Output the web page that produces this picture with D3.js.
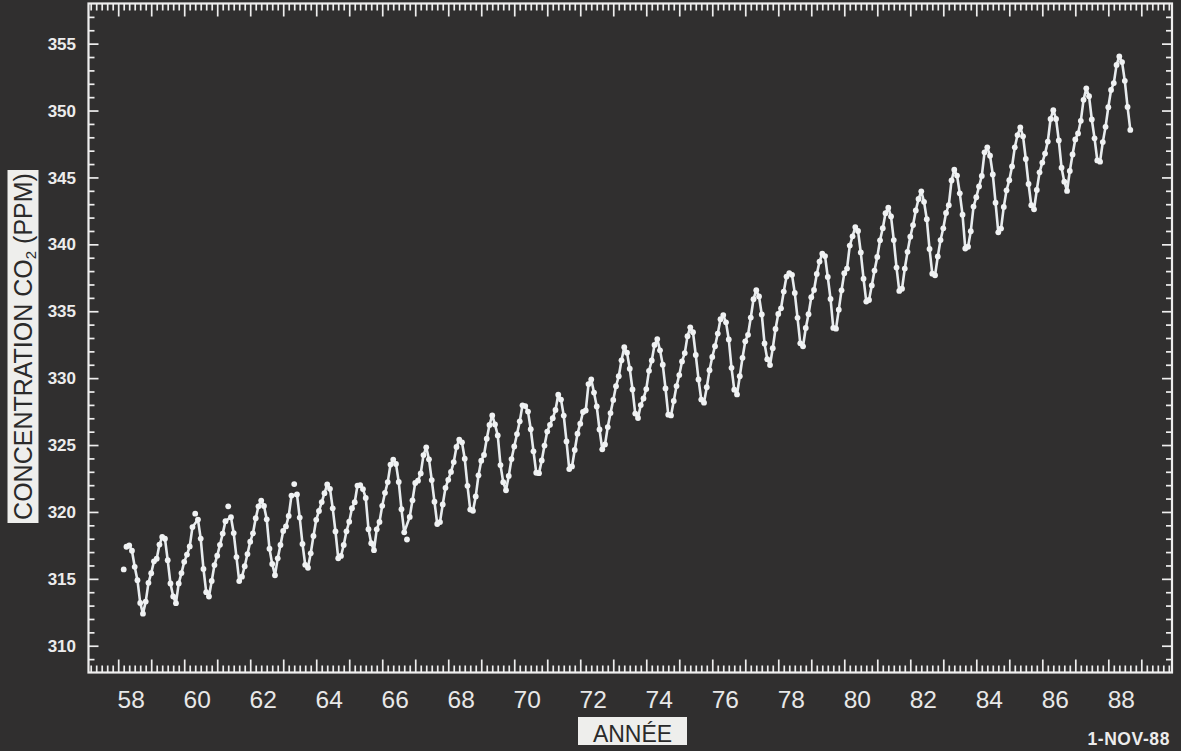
<!DOCTYPE html>
<html>
<head>
<meta charset="utf-8">
<script src="https://cdn.jsdelivr.net/npm/d3@7"></script>
<style>
  html, body { margin: 0; padding: 0; background: #302f2f; }
  svg { display: block; }
</style>
</head>
<body>
<script>
// ---------------- DATA ----------------
// Monthly mean CO2 concentration (ppm), Mauna Loa, from March 1958 to September 1988
const startYear = 1958;
const startMonth = 3; // March
const co2_1958_1967 = [
  315.7, 317.4, 317.5, 317.1, 315.9, 314.9, 313.2, 312.4, 313.3, 314.7,
  315.42, 316.31, 316.50, 317.56, 318.13, 318.00, 316.39, 314.65, 313.68, 313.18, 314.66, 315.43,
  316.27, 316.81, 317.42, 318.87, 319.87, 319.43, 318.01, 315.74, 314.00, 313.68, 314.84, 316.03,
  316.73, 317.54, 318.38, 319.31, 320.42, 319.61, 318.42, 316.63, 314.83, 315.16, 315.94, 316.85,
  317.78, 318.40, 319.53, 320.42, 320.85, 320.45, 319.45, 317.25, 316.11, 315.27, 316.53, 317.53,
  318.58, 318.92, 319.70, 321.22, 322.08, 321.31, 319.58, 317.61, 316.05, 315.83, 316.91, 318.20,
  319.41, 320.07, 320.74, 321.40, 322.06, 321.73, 320.27, 318.54, 316.54, 316.71, 317.53, 318.55,
  319.27, 320.28, 320.73, 321.97, 322.00, 321.71, 321.05, 318.71, 317.66, 317.14, 318.70, 319.25,
  320.46, 321.43, 322.23, 323.54, 323.91, 323.59, 322.24, 320.20, 318.48, 317.94, 319.63, 320.87,
  322.17, 322.34, 322.88, 324.25, 324.83, 323.93, 322.38, 320.76, 319.10, 319.24, 320.56, 321.80
];
const co2_1968_1977 = [
  322.40, 322.99, 323.73, 324.86, 325.40, 325.20, 323.98, 321.95, 320.18, 320.09, 321.16, 322.74,
  323.83, 324.26, 325.47, 326.50, 327.21, 326.54, 325.72, 323.50, 322.22, 321.62, 322.69, 323.95,
  324.89, 325.82, 326.77, 327.97, 327.91, 327.50, 326.18, 324.53, 322.93, 322.90, 323.85, 324.96,
  326.01, 326.51, 327.01, 327.62, 328.76, 328.40, 327.20, 325.27, 323.20, 323.40, 324.63, 325.85,
  326.60, 327.47, 327.58, 329.56, 329.90, 328.92, 327.88, 326.16, 324.68, 325.04, 326.34, 327.39,
  328.37, 329.40, 330.14, 331.33, 332.31, 331.90, 330.70, 329.15, 327.35, 327.02, 327.99, 328.48,
  329.18, 330.55, 331.32, 332.48, 332.92, 332.08, 331.01, 329.23, 327.27, 327.21, 328.29, 329.41,
  330.23, 331.25, 331.87, 333.14, 333.80, 333.43, 331.73, 329.90, 328.40, 328.17, 329.32, 330.59,
  331.58, 332.39, 333.33, 334.41, 334.71, 334.17, 332.89, 330.77, 329.14, 328.78, 330.14, 331.52,
  332.75, 333.24, 334.53, 335.90, 336.57, 336.10, 334.76, 332.59, 331.42, 330.98, 332.24, 333.68
];
const co2_1978_1988 = [
  334.80, 335.22, 336.47, 337.59, 337.84, 337.72, 336.37, 334.51, 332.60, 332.38, 333.75, 334.78,
  336.05, 336.59, 337.79, 338.71, 339.30, 339.12, 337.56, 335.92, 333.75, 333.70, 335.12, 336.56,
  337.84, 338.19, 339.91, 340.60, 341.29, 341.00, 339.39, 337.43, 335.72, 335.84, 336.93, 338.04,
  339.06, 340.30, 341.21, 342.33, 342.74, 342.08, 340.32, 338.26, 336.52, 336.68, 338.19, 339.44,
  340.57, 341.44, 342.53, 343.39, 343.96, 343.18, 341.88, 339.65, 337.81, 337.69, 339.09, 340.32,
  341.20, 342.35, 342.93, 344.77, 345.58, 345.14, 343.81, 342.21, 339.69, 339.82, 340.98, 342.82,
  343.52, 344.33, 345.11, 346.88, 347.25, 346.62, 345.22, 343.11, 340.90, 341.18, 342.80, 344.04,
  344.79, 345.82, 347.25, 348.17, 348.74, 348.07, 346.38, 344.51, 342.92, 342.62, 344.06, 345.38,
  346.11, 346.78, 347.68, 349.37, 350.03, 349.37, 347.76, 345.73, 344.68, 343.99, 345.48, 346.72,
  347.84, 348.29, 349.23, 350.80, 351.66, 351.07, 349.33, 347.92, 346.27, 346.18, 347.64, 348.78,
  350.25, 351.54, 352.05, 353.41, 354.04, 353.62, 352.22, 350.27, 348.55
];
// months plotted as points but not joined by the line
const detachedMonths = ["1958-03", "1960-05", "1961-05", "1963-05", "1966-10"];

const xTickLabels = ["58","60","62","64","66","68","70","72","74","76","78","80","82","84","86","88"];
const yTickLabels = ["310","315","320","325","330","335","340","345","350","355"];
const yTitle = ["CONCENTRATION CO", "2", " (PPM)"];
const xTitle = "ANNÉE";
const dateStamp = "1-NOV-88";

// ---------------- BUILD ----------------
const W = 1181, H = 751;
const values = co2_1958_1967.concat(co2_1968_1977, co2_1978_1988);
const data = values.map((v, i) => {
  const m0 = startMonth - 1 + i;
  const year = startYear + Math.floor(m0 / 12);
  const month = (m0 % 12) + 1;
  const key = year + "-" + String(month).padStart(2, "0");
  return { t: year + (month - 1) / 12, v, key, detached: detachedMonths.includes(key) };
});

const x = d3.scaleLinear().domain([1957.1, 1989.93]).range([88.5, 1172]);
const y = d3.scaleLinear().domain([308, 358]).range([672.5, 3.5]);

const FG = "#eeeeee";
const svg = d3.select("body").append("svg").attr("width", W).attr("height", H);
svg.append("rect").attr("width", W).attr("height", H).attr("fill", "#302f2f");

const x0 = x.range()[0], x1 = x.range()[1], y0 = y.range()[0], y1 = y.range()[1];

// tick values
const yearTicks = d3.range(1958, 1990, 1);
const minorX = d3.range(0, (1990 - 1957) * 6 + 1).map(k => 1957 + k / 6)
  .filter(t => t > x.domain()[0] + 0.01 && t < x.domain()[1] - 0.01 && Math.abs(t - Math.round(t)) > 0.01);
const yMajor = d3.range(310, 358, 5);
const yMinor = d3.range(309, 358, 1).filter(v => v % 5 !== 0);

function styleAxis(g) {
  g.select(".domain").remove();
  g.selectAll(".tick line").attr("stroke", FG).attr("stroke-width", 1.7);
  g.selectAll(".tick text").remove();
}

// bottom
svg.append("g").attr("transform", `translate(0,${y0})`)
  .call(d3.axisBottom(x).tickValues(yearTicks).tickSize(-13).tickFormat("")).call(styleAxis);
svg.append("g").attr("transform", `translate(0,${y0})`)
  .call(d3.axisBottom(x).tickValues(minorX).tickSize(-7).tickFormat("")).call(styleAxis);
// top
svg.append("g").attr("transform", `translate(0,${y1})`)
  .call(d3.axisTop(x).tickValues(yearTicks).tickSize(-13).tickFormat("")).call(styleAxis);
svg.append("g").attr("transform", `translate(0,${y1})`)
  .call(d3.axisTop(x).tickValues(minorX).tickSize(-7).tickFormat("")).call(styleAxis);
// left
svg.append("g").attr("transform", `translate(${x0},0)`)
  .call(d3.axisLeft(y).tickValues(yMajor).tickSize(-10).tickFormat("")).call(styleAxis);
svg.append("g").attr("transform", `translate(${x0},0)`)
  .call(d3.axisLeft(y).tickValues(yMinor).tickSize(-6).tickFormat("")).call(styleAxis);
// right
svg.append("g").attr("transform", `translate(${x1},0)`)
  .call(d3.axisRight(y).tickValues(yMajor).tickSize(-10).tickFormat("")).call(styleAxis);
svg.append("g").attr("transform", `translate(${x1},0)`)
  .call(d3.axisRight(y).tickValues(yMinor).tickSize(-6).tickFormat("")).call(styleAxis);

// frame
svg.append("rect").attr("x", x0).attr("y", y1).attr("width", x1 - x0).attr("height", y0 - y1)
  .attr("fill", "none").attr("stroke", FG).attr("stroke-width", 2.2);

// y tick labels
svg.append("g").selectAll("text").data(yTickLabels).join("text")
  .attr("x", 76).attr("y", d => y(+d)).attr("dy", "0.36em")
  .attr("text-anchor", "end")
  .attr("font-family", "'Liberation Sans', Arial, sans-serif")
  .attr("font-size", 17).attr("font-weight", "bold")
  .attr("fill", "#ececec").text(d => d);

// x tick labels
svg.append("g").selectAll("text").data(xTickLabels).join("text")
  .attr("x", d => x(1900 + +d) + 13).attr("y", 708)
  .attr("text-anchor", "middle")
  .attr("font-family", "'Liberation Sans', Arial, sans-serif")
  .attr("font-size", 24.5)
  .attr("fill", "#e8e8e8").text(d => d);

// y title box
svg.append("rect").attr("x", 7.5).attr("y", 170).attr("width", 31).attr("height", 353)
  .attr("fill", "#eeeeec");
const yt = svg.append("text")
  .attr("transform", `translate(31.5,346.5) rotate(-90)`)
  .attr("text-anchor", "middle")
  .attr("font-family", "'Liberation Sans', Arial, sans-serif")
  .attr("font-size", 25).attr("fill", "#2a2a2a");
yt.append("tspan").text(yTitle[0]);
yt.append("tspan").attr("font-size", 15).attr("dy", 4).text(yTitle[1]);
yt.append("tspan").attr("dy", -4).text(yTitle[2]);

// x title box
svg.append("rect").attr("x", 578).attr("y", 717).attr("width", 109).attr("height", 28)
  .attr("fill", "#eeeeec");
svg.append("text").attr("x", 632.5).attr("y", 742)
  .attr("text-anchor", "middle")
  .attr("font-family", "'Liberation Sans', Arial, sans-serif")
  .attr("font-size", 23).attr("fill", "#2a2a2a").text(xTitle);

// date stamp
svg.append("text").attr("x", 1170).attr("y", 745)
  .attr("text-anchor", "end")
  .attr("font-family", "'Liberation Sans', Arial, sans-serif")
  .attr("font-size", 17.5).attr("font-weight", "bold").attr("letter-spacing", 0.6)
  .attr("fill", "#ececec").text(dateStamp);

// series
const line = d3.line().x(d => x(d.t)).y(d => y(d.v));
svg.append("path").datum(data.filter(d => !d.detached))
  .attr("d", line).attr("fill", "none")
  .attr("stroke", "#e8ecee").attr("stroke-width", 2.6).attr("stroke-linejoin", "round");
svg.append("g").selectAll("circle").data(data).join("circle")
  .attr("cx", d => x(d.t)).attr("cy", d => y(d.v)).attr("r", 2.9)
  .attr("fill", "#f0f2f3");
</script>
</body>
</html>
